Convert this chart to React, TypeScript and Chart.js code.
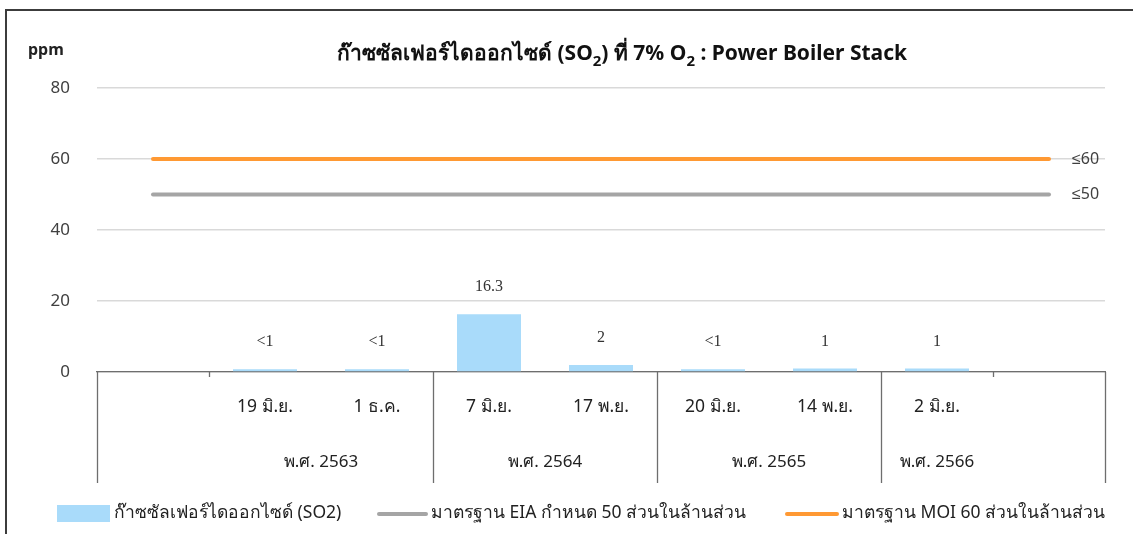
import React, { useEffect, useRef } from "react";
import { Chart, registerables } from "chart.js";

Chart.register(...registerables);

const categories = ["", "19 มิ.ย.", "1 ธ.ค.", "7 มิ.ย.", "17 พ.ย.", "20 มิ.ย.", "14 พ.ย.", "2 มิ.ย.", ""];
const so2Values = [null, 0.8, 0.8, 16.3, 2, 0.8, 1, 1, null];
const so2Labels = ["", "<1", "<1", "16.3", "2", "<1", "1", "1", ""];
const eiaLimit = [50, 50, 50, 50, 50, 50, 50, 50, 50];
const moiLimit = [60, 60, 60, 60, 60, 60, 60, 60, 60];
const yearGroups = [
  { label: "พ.ศ. 2563", from: 1, to: 2 },
  { label: "พ.ศ. 2564", from: 3, to: 4 },
  { label: "พ.ศ. 2565", from: 5, to: 6 },
  { label: "พ.ศ. 2566", from: 7, to: 7 },
];
const yTicks = [0, 20, 40, 60, 80];

const legendNames = [
  "ก๊าซซัลเฟอร์ไดออกไซด์ (SO2)",
  "มาตรฐาน EIA กำหนด 50 ส่วนในล้านส่วน",
  "มาตรฐาน MOI 60 ส่วนในล้านส่วน",
];

const BAR_COLOR = "#A9DBFA";
const EIA_COLOR = "#A5A5A5";
const MOI_COLOR = "#FF9933";
const FONT = "'Noto Sans', sans-serif";

const decorPlugin = {
  id: "decor",
  afterDraw(chart: any) {
    const ctx = chart.ctx as CanvasRenderingContext2D;
    const xs = chart.scales.x;
    const ys = chart.scales.y;
    const area = chart.chartArea;
    ctx.save();

    // outer frame
    ctx.strokeStyle = "#3c3c3c";
    ctx.lineWidth = 2;
    ctx.strokeRect(6, 10, 1200, 600);

    // title with subscripts
    const parts: [string, boolean][] = [
      ["ก๊าซซัลเฟอร์ไดออกไซด์ (SO", false],
      ["2", true],
      [") ที่ 7% O", false],
      ["2", true],
      [" : Power Boiler Stack", false],
    ];
    const mainFont = `bold 21px ${FONT}`;
    const subFont = `bold 15px ${FONT}`;
    let total = 0;
    for (const [t, s] of parts) {
      ctx.font = s ? subFont : mainFont;
      total += ctx.measureText(t).width;
    }
    let tx = 622 - total / 2;
    ctx.fillStyle = "#111";
    ctx.textBaseline = "alphabetic";
    ctx.textAlign = "left";
    for (const [t, s] of parts) {
      ctx.font = s ? subFont : mainFont;
      ctx.fillText(t, tx, s ? 66 : 60);
      tx += ctx.measureText(t).width;
    }

    // unit
    ctx.font = `bold 16px ${FONT}`;
    ctx.fillStyle = "#222";
    ctx.textBaseline = "middle";
    ctx.fillText("ppm", 28, 50);

    // bar value labels
    ctx.font = `16px 'Liberation Serif', serif`;
    ctx.fillStyle = "#333";
    ctx.textAlign = "center";
    const meta = chart.getDatasetMeta(0);
    meta.data.forEach((bar: any, i: number) => {
      if (so2Values[i] == null) return;
      ctx.fillText(so2Labels[i], bar.x, bar.y - 27);
    });

    // limit labels
    ctx.font = `16px ${FONT}`;
    ctx.fillStyle = "#404040";
    ctx.textAlign = "left";
    const lx = xs.getPixelForValue(categories.length - 1) + 23;
    ctx.fillText("≤60", lx, ys.getPixelForValue(60));
    ctx.fillText("≤50", lx, ys.getPixelForValue(50));

    // category axis
    const half = (xs.getPixelForValue(1) - xs.getPixelForValue(0)) / 2;
    const bottom = area.bottom;
    ctx.strokeStyle = "#6e6e6e";
    ctx.lineWidth = 1.3;
    const fullLines = [area.left, xs.getPixelForValue(3) - half, xs.getPixelForValue(5) - half, xs.getPixelForValue(7) - half, area.right];
    fullLines.forEach((x) => {
      ctx.beginPath();
      ctx.moveTo(Math.round(x) + 0.5, bottom);
      ctx.lineTo(Math.round(x) + 0.5, bottom + 111);
      ctx.stroke();
    });
    const shortTicks = [xs.getPixelForValue(1) - half, xs.getPixelForValue(8) - half];
    shortTicks.forEach((x) => {
      ctx.beginPath();
      ctx.moveTo(Math.round(x) + 0.5, bottom);
      ctx.lineTo(Math.round(x) + 0.5, bottom + 5);
      ctx.stroke();
    });

    ctx.font = `17.5px ${FONT}`;
    ctx.fillStyle = "#222";
    ctx.textAlign = "center";
    categories.forEach((c, i) => {
      if (!c) return;
      ctx.fillText(c, xs.getPixelForValue(i), bottom + 35);
    });
    ctx.font = `17px ${FONT}`;
    yearGroups.forEach((g) => {
      const cx = (xs.getPixelForValue(g.from) + xs.getPixelForValue(g.to)) / 2;
      ctx.fillText(g.label, cx, bottom + 90);
    });

    // legend
    const ly = 513;
    ctx.font = `17.5px ${FONT}`;
    ctx.textAlign = "left";
    ctx.fillStyle = BAR_COLOR;
    ctx.fillRect(57, 505, 53, 17);
    ctx.fillStyle = "#222";
    ctx.fillText(legendNames[0], 114, ly);
    ctx.strokeStyle = EIA_COLOR;
    ctx.lineWidth = 4;
    ctx.lineCap = "round";
    ctx.beginPath();
    ctx.moveTo(379, ly + 1);
    ctx.lineTo(426, ly + 1);
    ctx.stroke();
    ctx.fillText(legendNames[1], 431, ly);
    ctx.strokeStyle = MOI_COLOR;
    ctx.beginPath();
    ctx.moveTo(787, ly + 1);
    ctx.lineTo(837, ly + 1);
    ctx.stroke();
    ctx.fillText(legendNames[2], 842, ly);

    ctx.restore();
  },
};

export default function App() {
  const ref = useRef<HTMLCanvasElement>(null);
  useEffect(() => {
    if (!ref.current) return;
    const chart = new Chart(ref.current, {
      type: "bar",
      data: {
        labels: categories,
        datasets: [
          {
            type: "bar",
            label: legendNames[0],
            data: so2Values as any,
            backgroundColor: BAR_COLOR,
            barPercentage: 64 / 112,
            categoryPercentage: 1,
            order: 3,
          },
          {
            type: "line",
            label: legendNames[1],
            data: eiaLimit,
            borderColor: EIA_COLOR,
            borderWidth: 4,
            borderCapStyle: "round",
            pointRadius: 0,
            order: 2,
          },
          {
            type: "line",
            label: legendNames[2],
            data: moiLimit,
            borderColor: MOI_COLOR,
            borderWidth: 4,
            borderCapStyle: "round",
            pointRadius: 0,
            order: 1,
          },
        ] as any,
      },
      options: {
        responsive: false,
        animation: false,
        layout: { padding: { left: 0, right: 28, top: 88, bottom: 0 } },
        plugins: { legend: { display: false }, tooltip: { enabled: false }, title: { display: false } },
        scales: {
          x: {
            ticks: { display: false },
            grid: { display: false },
            border: { display: true, color: "#6e6e6e", width: 1.3 },
            afterFit: (s: any) => {
              s.height = 162;
            },
          },
          y: {
            min: 0,
            max: 80,
            afterBuildTicks: (s: any) => {
              s.ticks = yTicks.map((v) => ({ value: v }));
            },
            ticks: {
              padding: 27,
              color: "#404040",
              font: { family: "'Noto Sans', sans-serif", size: 17 },
            },
            grid: { color: "#D9D9D9", lineWidth: 1.5, drawTicks: false },
            border: { display: false },
            afterFit: (s: any) => {
              s.width = 97;
            },
          },
        },
      },
      plugins: [decorPlugin],
    });
    return () => chart.destroy();
  }, []);
  return (
    <div style={{ position: "absolute", left: 0, top: 0, width: 1133, height: 534, background: "#fff" }}>
      <canvas ref={ref} width={1133} height={534} style={{ display: "block" }} />
    </div>
  );
}
